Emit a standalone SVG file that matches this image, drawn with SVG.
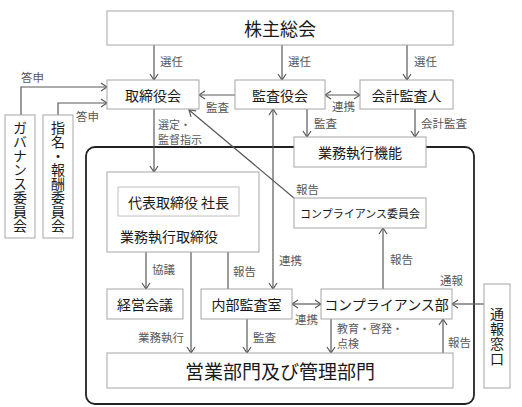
<svg xmlns="http://www.w3.org/2000/svg" width="522" height="407" viewBox="0 0 522 407">
<style>
.box{fill:#fff;stroke:#a6a6a6;stroke-width:1}
.inner{fill:#fff;stroke:#c0c0c0;stroke-width:1}
.t{font-family:"Noto Sans CJK JP","Noto Sans CJK SC",sans-serif;fill:#1a1a1a;text-anchor:middle;dominant-baseline:central;font-size:14px}
.v{font-family:"Noto Sans CJK JP","Noto Sans CJK SC",sans-serif;fill:#1a1a1a;text-anchor:middle;font-size:14px;writing-mode:vertical-rl}
.l{font-family:"Noto Sans CJK JP","Noto Sans CJK SC",sans-serif;fill:#595959;dominant-baseline:central;font-size:11.5px}
.c{fill:none;stroke:#595959;stroke-width:1.2}
.frame{fill:none;stroke:#222;stroke-width:1.8}
</style>
<defs>
<marker id="a" viewBox="0 0 8 10" refX="7" refY="5" markerWidth="8" markerHeight="10" markerUnits="userSpaceOnUse" orient="auto-start-reverse">
<path d="M1,1 L7,5 L1,9" fill="none" stroke="#595959" stroke-width="1.2"/>
</marker>
</defs>
<rect class="frame" x="86" y="147" width="388" height="257" rx="9"/>
<g id="connectors">
<line class="c" x1="154" y1="45" x2="154" y2="80" marker-end="url(#a)"/>
<line class="c" x1="282" y1="45" x2="282" y2="80" marker-end="url(#a)"/>
<line class="c" x1="407" y1="45" x2="407" y2="80" marker-end="url(#a)"/>
<line class="c" x1="235" y1="95" x2="199" y2="95" marker-end="url(#a)"/>
<line class="c" x1="325" y1="95" x2="360" y2="95" marker-start="url(#a)" marker-end="url(#a)"/>
<line class="c" x1="307" y1="109" x2="307" y2="137" marker-end="url(#a)"/>
<line class="c" x1="415" y1="109" x2="415" y2="137" marker-end="url(#a)"/>
<polyline class="c" points="21,115 21,87 107,87" marker-end="url(#a)"/>
<polyline class="c" points="58,115 58,103 107,103" marker-end="url(#a)"/>
<line class="c" x1="154" y1="109" x2="154" y2="172" marker-end="url(#a)"/>
<line class="c" x1="294" y1="198" x2="189" y2="110" marker-end="url(#a)"/>
<line class="c" x1="273" y1="109" x2="273" y2="289" marker-start="url(#a)" marker-end="url(#a)"/>
<line class="c" x1="146" y1="252" x2="146" y2="289" marker-end="url(#a)"/>
<line class="c" x1="191" y1="252" x2="191" y2="353" marker-end="url(#a)"/>
<line class="c" x1="228" y1="289" x2="228" y2="216" marker-end="url(#a)"/>
<line class="c" x1="247" y1="319" x2="247" y2="353" marker-end="url(#a)"/>
<line class="c" x1="292" y1="304" x2="321" y2="304" marker-start="url(#a)" marker-end="url(#a)"/>
<line class="c" x1="383" y1="289" x2="383" y2="228" marker-end="url(#a)"/>
<line class="c" x1="331" y1="319" x2="331" y2="353" marker-end="url(#a)"/>
<line class="c" x1="443" y1="353" x2="443" y2="319" marker-end="url(#a)"/>
<line class="c" x1="484" y1="304" x2="452" y2="304" marker-end="url(#a)"/>
</g>
<g id="labels">
<text class="l" x="160" y="61">選任</text>
<text class="l" x="288" y="61">選任</text>
<text class="l" x="414" y="61">選任</text>
<text class="l" x="206" y="107">監査</text>
<text class="l" x="332" y="106">連携</text>
<text class="l" x="314" y="123">監査</text>
<text class="l" x="421" y="123">会計監査</text>
<text class="l" x="21" y="77">答申</text>
<text class="l" x="76" y="116">答申</text>
<text class="l" style="font-size:11px"><tspan x="158" y="124">選定・</tspan><tspan x="158" y="139">監督指示</tspan></text>
<text class="l" x="296" y="189">報告</text>
<text class="l" x="279" y="260">連携</text>
<text class="l" x="390" y="259">報告</text>
<text class="l" x="152" y="269">協議</text>
<text class="l" x="233" y="271">報告</text>
<text class="l" x="138" y="337">業務執行</text>
<text class="l" x="253" y="337">監査</text>
<text class="l" x="295" y="319">連携</text>
<text class="l" x="440" y="280">通報</text>
<text class="l" style="font-size:11px"><tspan x="337" y="328">教育・啓発・</tspan><tspan x="337" y="343">点検</tspan></text>
<text class="l" x="448" y="342">報告</text>
</g>
<g id="n-shareholders"><rect class="box" x="107" y="11" width="346" height="34"/><text class="t" x="280" y="28" style="font-size:18px">株主総会</text></g>
<g id="n-board"><rect class="box" x="107" y="80" width="92" height="29"/><text class="t" x="153" y="94.5">取締役会</text></g>
<g id="n-auditboard"><rect class="box" x="235" y="80" width="90" height="29"/><text class="t" x="280" y="94.5">監査役会</text></g>
<g id="n-accountant"><rect class="box" x="360" y="80" width="93" height="29"/><text class="t" x="406.5" y="94.5">会計監査人</text></g>
<g id="n-execfunc"><rect class="box" x="294" y="137" width="132" height="30"/><text class="t" x="360" y="152">業務執行機能</text></g>
<g id="n-compcommittee"><rect class="box" x="294" y="198" width="132" height="30"/><text class="t" x="360" y="213" style="font-size:11px">コンプライアンス委員会</text></g>
<g id="n-execdirector"><rect class="box" x="107" y="172" width="152" height="80"/><text class="t" x="120" y="236" style="text-anchor:start">業務執行取締役</text></g>
<g id="n-president"><rect class="inner" x="118" y="187" width="121" height="29"/><text class="t" x="178.5" y="201.5">代表取締役 社長</text></g>
<g id="n-mgmtmeeting"><rect class="box" x="107" y="289" width="76" height="30"/><text class="t" x="145" y="304">経営会議</text></g>
<g id="n-internalaudit"><rect class="box" x="201" y="289" width="91" height="30"/><text class="t" x="246.5" y="304">内部監査室</text></g>
<g id="n-compdept"><rect class="box" x="321" y="289" width="131" height="30"/><text class="t" x="386.5" y="304">コンプライアンス部</text></g>
<g id="n-depts"><rect class="box" x="107" y="353" width="346" height="35"/><text class="t" x="280" y="370.5" style="font-size:19px">営業部門及び管理部門</text></g>
<g id="n-governance"><rect class="box" x="5" y="115" width="30" height="123"/><text class="v" x="20" y="177">ガバナンス委員会</text></g>
<g id="n-nomination"><rect class="box" x="43" y="115" width="30" height="123"/><text class="v" x="58" y="177">指名・報酬委員会</text></g>
<g id="n-hotline"><rect class="box" x="484" y="284" width="26" height="104"/><text class="v" x="497" y="337" style="letter-spacing:1px">通報窓口</text></g>
</svg>
